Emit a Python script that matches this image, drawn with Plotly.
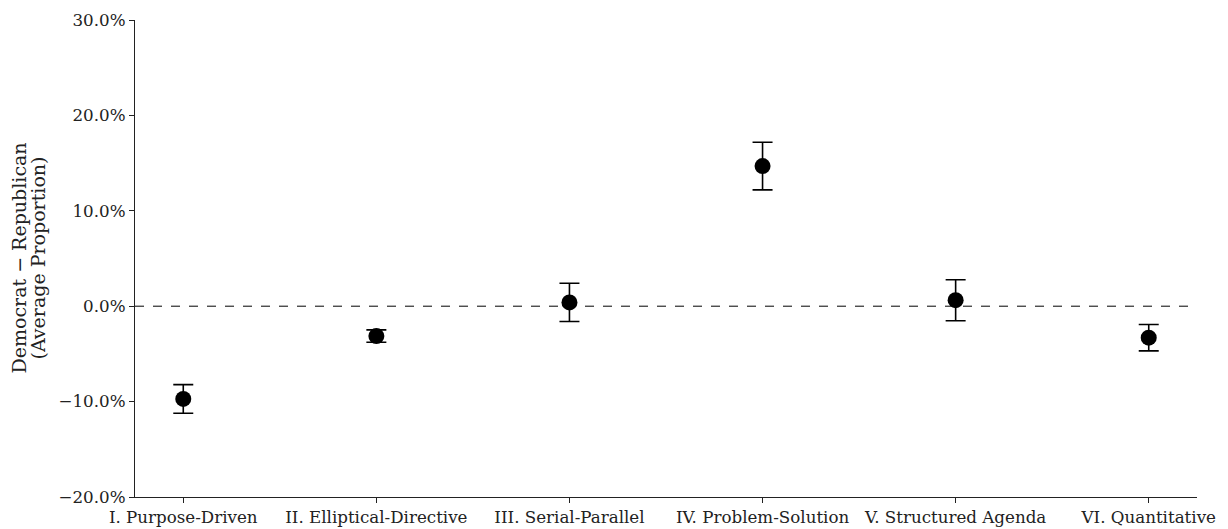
import plotly.graph_objects as go

categories = ["I. Purpose-Driven", "II. Elliptical-Directive", "III. Serial-Parallel",
              "IV. Problem-Solution", "V. Structured Agenda", "VI. Quantitative"]
diffs = [-0.0972, -0.0313, 0.0040, 0.1469, 0.0063, -0.0330]
errors = [0.0150, 0.0065, 0.0200, 0.0250, 0.0215, 0.0138]
ytick_vals = [-0.2, -0.1, 0.0, 0.1, 0.2, 0.3]
ytick_text = ["\u221220.0%", "\u221210.0%", "0.0%", "10.0%", "20.0%", "30.0%"]
ytitle_lines = ["Democrat \u2212 Republican", "(Average Proportion)"]

font_family = "DejaVu Serif"
xs = list(range(len(categories)))

fig = go.Figure()
fig.add_trace(go.Scatter(
    x=xs, y=diffs, mode="markers",
    marker=dict(color="black", size=16),
    error_y=dict(type="data", array=errors, visible=True, color="black",
                 thickness=1.6, width=10),
    showlegend=False,
))
fig.add_shape(type="line", xref="paper", yref="y", x0=0, x1=1, y0=0, y1=0,
              line=dict(color="black", width=1, dash="dash"), layer="below")

for line, shift in zip(ytitle_lines, [-117, -98]):
    fig.add_annotation(text=line, xref="paper", yref="paper", x=0, y=0.5,
                       xanchor="center", yanchor="middle", xshift=shift, textangle=-90,
                       showarrow=False, borderpad=0,
                       font=dict(family=font_family, size=19, color="#222"))

# page body adds an 8px offset; the canvas is sized so that it fills the window
fig.update_layout(
    width=1220, height=521,
    margin=dict(l=127, r=31, t=12, b=32),
    paper_bgcolor="white", plot_bgcolor="white",
    font=dict(family=font_family, size=17, color="#222"),
    xaxis=dict(range=[-0.25, 5.25], tickvals=xs, ticktext=categories,
               showgrid=False, zeroline=False, showline=True, linecolor="#222",
               linewidth=1.3, ticks="outside", ticklen=5, tickcolor="#222",
               tickfont=dict(family=font_family, size=16.7), automargin=False),
    yaxis=dict(range=[-0.2, 0.3], tickvals=ytick_vals, ticktext=ytick_text,
               showgrid=False, zeroline=False, showline=True, linecolor="#222",
               linewidth=1.3, ticks="outside", ticklen=5, tickcolor="#222",
               tickfont=dict(family=font_family, size=16.7), automargin=False),
)

fig.write_html("out.html")
